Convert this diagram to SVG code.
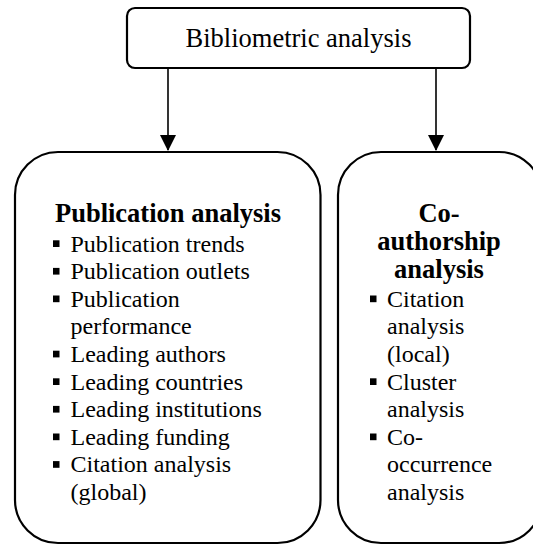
<svg xmlns="http://www.w3.org/2000/svg" width="533" height="545" viewBox="0 0 533 545">
<style>
.box{fill:#fff;stroke:#000;stroke-width:2.2}
.t{font-family:'Liberation Serif',Tinos,'Times New Roman',Times,'DejaVu Serif',serif;fill:#000}
.title{font-size:26.5px}
.head{font-size:26.5px;font-weight:bold;text-anchor:middle}
.body{font-size:24px}
.bul{fill:#000}
.conn{stroke:#000;stroke-width:1.6;fill:none}
</style>
<defs>
<marker id="arr" viewBox="0 0 16 16" refX="15" refY="8" markerWidth="16" markerHeight="16" markerUnits="userSpaceOnUse" orient="auto">
<path d="M0,0 L16,8 L0,16 Z" fill="#000"/>
</marker>
</defs>
<rect width="533" height="545" fill="#fff"/>
<g id="connectors">
<line class="conn" x1="168" y1="68" x2="168" y2="150" marker-end="url(#arr)"/>
<line class="conn" x1="436" y1="68" x2="436" y2="150" marker-end="url(#arr)"/>
</g>
<g id="bibliometric">
<rect class="box" x="127" y="8" width="343" height="60" rx="8" ry="8"/>
<text class="t title" x="298.5" y="46.5" text-anchor="middle" font-family="Liberation Serif, serif">Bibliometric analysis</text>
</g>
<g id="publication">
<rect class="box" x="15" y="152" width="305.5" height="391" rx="43" ry="43"/>
<text class="t head" x="168" y="221.5">Publication analysis</text>
<g class="bul">
<rect x="53" y="240.3" width="6.5" height="6.7"/>
<rect x="53" y="267.9" width="6.5" height="6.7"/>
<rect x="53" y="295.5" width="6.5" height="6.7"/>
<rect x="53" y="350.7" width="6.5" height="6.7"/>
<rect x="53" y="378.3" width="6.5" height="6.7"/>
<rect x="53" y="405.9" width="6.5" height="6.7"/>
<rect x="53" y="433.5" width="6.5" height="6.7"/>
<rect x="53" y="461.1" width="6.5" height="6.7"/>
</g>
<text class="t body" x="70.5" y="251.6">Publication trends</text>
<text class="t body" x="70.5" y="279.2">Publication outlets</text>
<text class="t body" x="70.5" y="306.8">Publication</text>
<text class="t body" x="70.5" y="334.4">performance</text>
<text class="t body" x="70.5" y="362">Leading authors</text>
<text class="t body" x="70.5" y="389.6">Leading countries</text>
<text class="t body" x="70.5" y="417.2">Leading institutions</text>
<text class="t body" x="70.5" y="444.8">Leading funding</text>
<text class="t body" x="70.5" y="472.4">Citation analysis</text>
<text class="t body" x="70.5" y="500">(global)</text>
</g>
<g id="coauthorship">
<rect class="box" x="338" y="152" width="204" height="391" rx="43" ry="43"/>
<text class="t head" x="439" y="221.5">Co-</text>
<text class="t head" x="439" y="249.5">authorship</text>
<text class="t head" x="439" y="278">analysis</text>
<g class="bul">
<rect x="370" y="295.5" width="6.5" height="6.7"/>
<rect x="370" y="378.3" width="6.5" height="6.7"/>
<rect x="370" y="433.5" width="6.5" height="6.7"/>
</g>
<text class="t body" x="387" y="306.8">Citation</text>
<text class="t body" x="387" y="334.4">analysis</text>
<text class="t body" x="387" y="362">(local)</text>
<text class="t body" x="387" y="389.6">Cluster</text>
<text class="t body" x="387" y="417.2">analysis</text>
<text class="t body" x="387" y="444.8">Co-</text>
<text class="t body" x="387" y="472.4">occurrence</text>
<text class="t body" x="387" y="500">analysis</text>
</g>
</svg>
